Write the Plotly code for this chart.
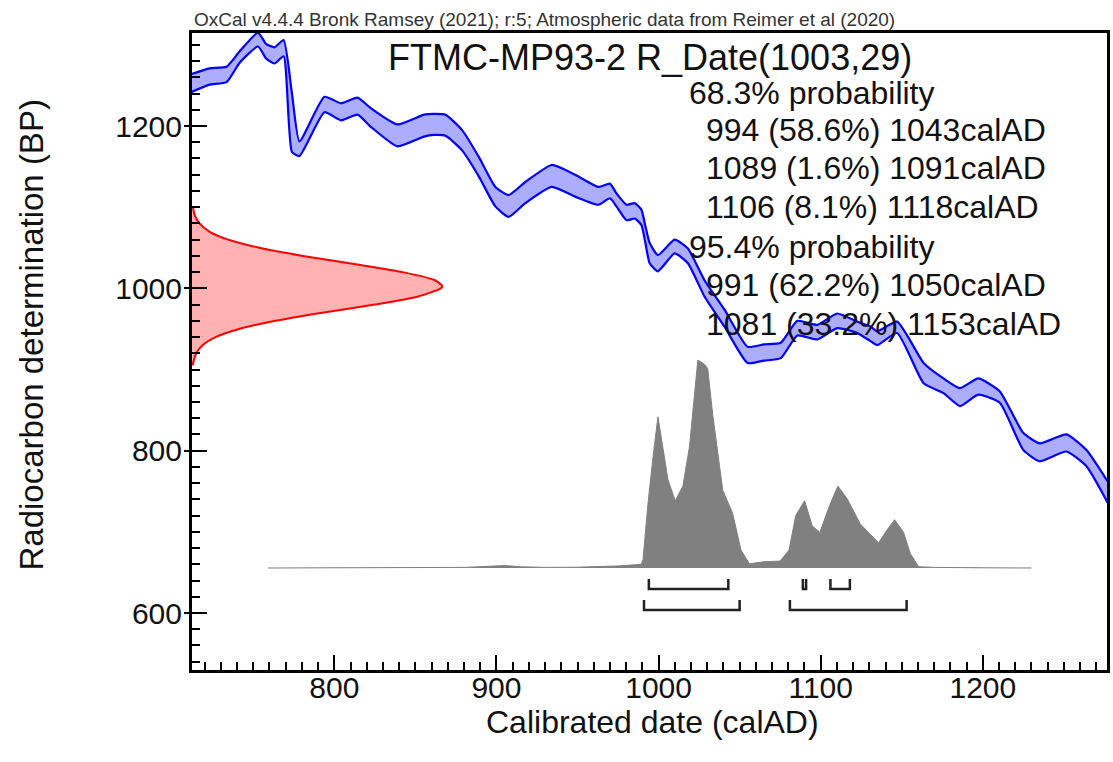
import plotly.graph_objects as go

# ---------------- data ----------------
# Calibration curve (IntCal20) band edges, BP
cal_year = [712, 723, 733.5, 741.6, 752.9, 758, 763.1, 768.7, 773.8, 778.5,
            793.9, 804.1, 814.3, 822.5, 838.9, 855.3, 861.4, 868.6, 878.8, 889.1,
            899.3, 907.5, 917.8, 934.1, 948.5, 962.8, 970, 974, 980.2, 985.3,
            989.4, 991.5, 994.5, 999.6, 1009.9, 1018.1, 1028.3, 1040.6, 1054.9, 1065,
            1075.4, 1085.6, 1097.9, 1110.2, 1122.5, 1130.7, 1134.8, 1147.1, 1163.5, 1175.7,
            1185.9, 1197.2, 1210.5, 1224.9, 1235.1, 1251.5, 1263.8, 1277]
cal_upper = [1264, 1271, 1273, 1292, 1315, 1301, 1297, 1306, 1241, 1181,
             1236, 1228, 1235, 1222, 1202, 1214, 1215, 1214, 1195, 1162,
             1125, 1115, 1131, 1152, 1140, 1125, 1129, 1117, 1103, 1105,
             1097, 1080, 1056, 1041, 1060, 1049, 1010, 974, 928, 931,
             933, 960, 955, 969, 959, 953, 947, 959, 908, 889,
             877, 889, 873, 822, 809, 820, 801, 762]
cal_lower = [1242, 1251, 1254, 1278, 1298, 1283, 1277, 1286, 1168, 1163,
             1217, 1207, 1214, 1199, 1175, 1187, 1189, 1188, 1170, 1138,
             1101, 1088, 1105, 1125, 1113, 1103, 1111, 1101, 1084, 1086,
             1078, 1060, 1031, 1021, 1043, 1031, 990, 953, 908, 911,
             914, 942, 937, 951, 945, 935, 930, 945, 883, 871,
             855, 869, 859, 801, 787, 799, 781, 736]

# Radiocarbon measurement distribution R_Date(1003,29), relative height
rdate_bp = [1100, 1090, 1080, 1070, 1060, 1050, 1040, 1030, 1020, 1010, 1003,
            1000, 990, 980, 970, 960, 950, 940, 930, 920, 910, 905]
rdate_prob = [0.004, 0.011, 0.03, 0.069, 0.145, 0.269, 0.443, 0.648, 0.842, 0.971, 1.0,
              0.995, 0.904, 0.73, 0.52, 0.333, 0.188, 0.094, 0.042, 0.017, 0.006, 0.003]

# Calibrated (posterior) distribution, relative height
post_year = [759, 800, 850, 880, 895, 905, 915, 930, 950, 965, 975, 985, 989.4,
             990.4, 993.5, 996.6, 999.6, 1005.8, 1010.3, 1015, 1019.1, 1024.2, 1028.3,
             1030.3, 1033.4, 1039.6, 1045.7, 1050.8, 1056, 1065, 1075, 1080.5, 1084.6,
             1090.1, 1094.8, 1099.5, 1105.1, 1110.6, 1116.3, 1124.4, 1135.7, 1140.8,
             1145.6, 1151.1, 1155.2, 1160.4, 1170, 1200, 1230]
post_prob = [0, 0.001, 0.002, 0.003, 0.008, 0.012, 0.006, 0.003, 0.004, 0.006, 0.01, 0.015, 0.018,
             0.04, 0.31, 0.53, 0.72, 0.42, 0.32, 0.39, 0.58, 0.99, 0.97,
             0.95, 0.73, 0.37, 0.26, 0.086, 0.02, 0.03, 0.033, 0.086, 0.25,
             0.32, 0.20, 0.17, 0.29, 0.39, 0.33, 0.21, 0.12, 0.18,
             0.23, 0.17, 0.07, 0.006, 0.003, 0.001, 0]

# Highest probability density ranges
range68_start = [994, 1089, 1106]
range68_end = [1043, 1091, 1118]
range68_pct = [58.6, 1.6, 8.1]
range95_start = [991, 1081]
range95_end = [1050, 1153]
range95_pct = [62.2, 33.2]

x_ticks = [800, 900, 1000, 1100, 1200]
y_ticks = [600, 800, 1000, 1200]

title_text = "FTMC-MP93-2 R_Date(1003,29)"
header_text = "OxCal v4.4.4 Bronk Ramsey (2021); r:5; Atmospheric data from Reimer et al (2020)"

# ---------------- figure ----------------
FONT = "Liberation Sans, Arial, Helvetica, sans-serif"
W, H = 1113, 762
L, R, T, B = 192, 3, 33, 92
PW, PH = W - L - R, H - T - B
X_RANGE = [712.2, 1276.6]
Y_RANGE = [529.8, 1314.6]

fig = go.Figure()

# calibration band
fig.add_trace(go.Scatter(x=cal_year, y=cal_lower, mode="lines",
                         line=dict(color="#0000ff", width=2.2, shape="spline", smoothing=0.5),
                         hoverinfo="skip", showlegend=False))
fig.add_trace(go.Scatter(x=cal_year, y=cal_upper, mode="lines", fill="tonexty",
                         fillcolor="rgba(0,0,255,0.32)",
                         line=dict(color="#0000ff", width=2.2, shape="spline", smoothing=0.5),
                         hoverinfo="skip", showlegend=False))

# radiocarbon distribution on y axis
fig.add_trace(go.Scatter(x=rdate_prob, y=rdate_bp, xaxis="x2", yaxis="y", mode="lines",
                         fill="tozerox", fillcolor="rgba(255,0,0,0.3)",
                         line=dict(color="#ff0000", width=2, shape="spline", smoothing=0.6),
                         hoverinfo="skip", showlegend=False))

# posterior distribution
fig.add_trace(go.Scatter(x=post_year, y=post_prob, xaxis="x", yaxis="y2", mode="lines",
                         fill="tozeroy", fillcolor="#808080",
                         line=dict(color="#808080", width=1),
                         hoverinfo="skip", showlegend=False))

# range brackets
def bracket(x0, x1, ytop, ybot):
    fig.add_trace(go.Scatter(x=[x0, x0, x1, x1], y=[ytop, ybot, ybot, ytop],
                             xaxis="x", yaxis="y2", mode="lines",
                             line=dict(color="#222222", width=2.5),
                             hoverinfo="skip", showlegend=False))

for s, e in zip(range68_start, range68_end):
    bracket(s, e, -0.052, -0.1)
for s, e in zip(range95_start, range95_end):
    bracket(s, e, -0.152, -0.2)

# invisible trace to activate the outside tick stubs axis
fig.add_trace(go.Scatter(x=[None], y=[None], xaxis="x", yaxis="y3", mode="lines",
                         hoverinfo="skip", showlegend=False))

annotations = []
def py(pix):
    return (H - B - pix) / PH

annotations.append(dict(text=header_text, x=0, xref="paper", xanchor="left",
                        y=py(19), yref="paper", yanchor="middle", showarrow=False,
                        font=dict(family=FONT, size=19, color="#333333")))
annotations.append(dict(text=title_text, x=0.5, xref="paper", xanchor="center",
                        y=py(57), yref="paper", yanchor="middle", showarrow=False,
                        font=dict(family=FONT, size=36, color="#111111")))

lines = [("68.3% probability", 689, 92.7)]
ys68 = [130, 168, 206.7]
for (s, e, p), yy in zip(zip(range68_start, range68_end, range68_pct), ys68):
    lines.append((f"{s} ({p}%) {e}calAD", 706, yy))
lines.append(("95.4% probability", 689, 246.7))
ys95 = [285, 323.5]
for (s, e, p), yy in zip(zip(range95_start, range95_end, range95_pct), ys95):
    lines.append((f"{s} ({p}%) {e}calAD", 706, yy))
for txt, xp, yp in lines:
    annotations.append(dict(text=txt, x=(xp - L) / PW, xref="paper", xanchor="left",
                            y=py(yp), yref="paper", yanchor="middle", showarrow=False,
                            font=dict(family=FONT, size=32, color="#111111")))

annotations.append(dict(text="Calibrated date (calAD)", x=0.503, xref="paper", xanchor="center",
                        y=py(722), yref="paper", yanchor="middle", showarrow=False,
                        font=dict(family=FONT, size=32, color="#111111")))
annotations.append(dict(text="Radiocarbon determination (BP)", x=(30 - L) / PW, xref="paper",
                        xanchor="center", y=py(335), yref="paper", yanchor="middle",
                        textangle=-90, showarrow=False,
                        font=dict(family=FONT, size=33, color="#111111")))

fig.update_layout(
    width=W, height=H,
    margin=dict(l=L, r=R, t=T, b=B, pad=0),
    paper_bgcolor="white", plot_bgcolor="white",
    showlegend=False,
    annotations=annotations,
    xaxis=dict(range=X_RANGE, tickvals=x_ticks, ticks="inside", ticklen=15,
               tickwidth=2, tickcolor="black",
               minor=dict(dtick=10, tick0=0, ticks="inside", ticklen=8, tickwidth=1.5,
                          tickcolor="black", showgrid=False),
               showgrid=False, zeroline=False, showline=True, linecolor="black",
               linewidth=3, mirror=True, ticklabelstandoff=-11,
               tickfont=dict(family=FONT, size=30, color="#111111")),
    yaxis=dict(range=Y_RANGE, tickvals=y_ticks, ticks="inside", ticklen=15,
               tickwidth=2, tickcolor="black",
               minor=dict(dtick=20, tick0=0, ticks="inside", ticklen=8, tickwidth=1.5,
                          tickcolor="black", showgrid=False),
               showgrid=False, zeroline=False, showline=True, linecolor="black",
               linewidth=3, mirror=True, ticklabelstandoff=1,
               tickfont=dict(family=FONT, size=30, color="#111111")),
    xaxis2=dict(overlaying="x", range=[0, 3.657], visible=False),
    yaxis2=dict(overlaying="y", range=[-0.4856, 2.5474], visible=False),
    yaxis3=dict(overlaying="y", side="left", range=Y_RANGE, tickvals=y_ticks,
                ticks="outside", ticklen=7, tickwidth=2, tickcolor="black",
                showticklabels=False, showgrid=False, zeroline=False, showline=False),
)

fig.write_html("out.html")
